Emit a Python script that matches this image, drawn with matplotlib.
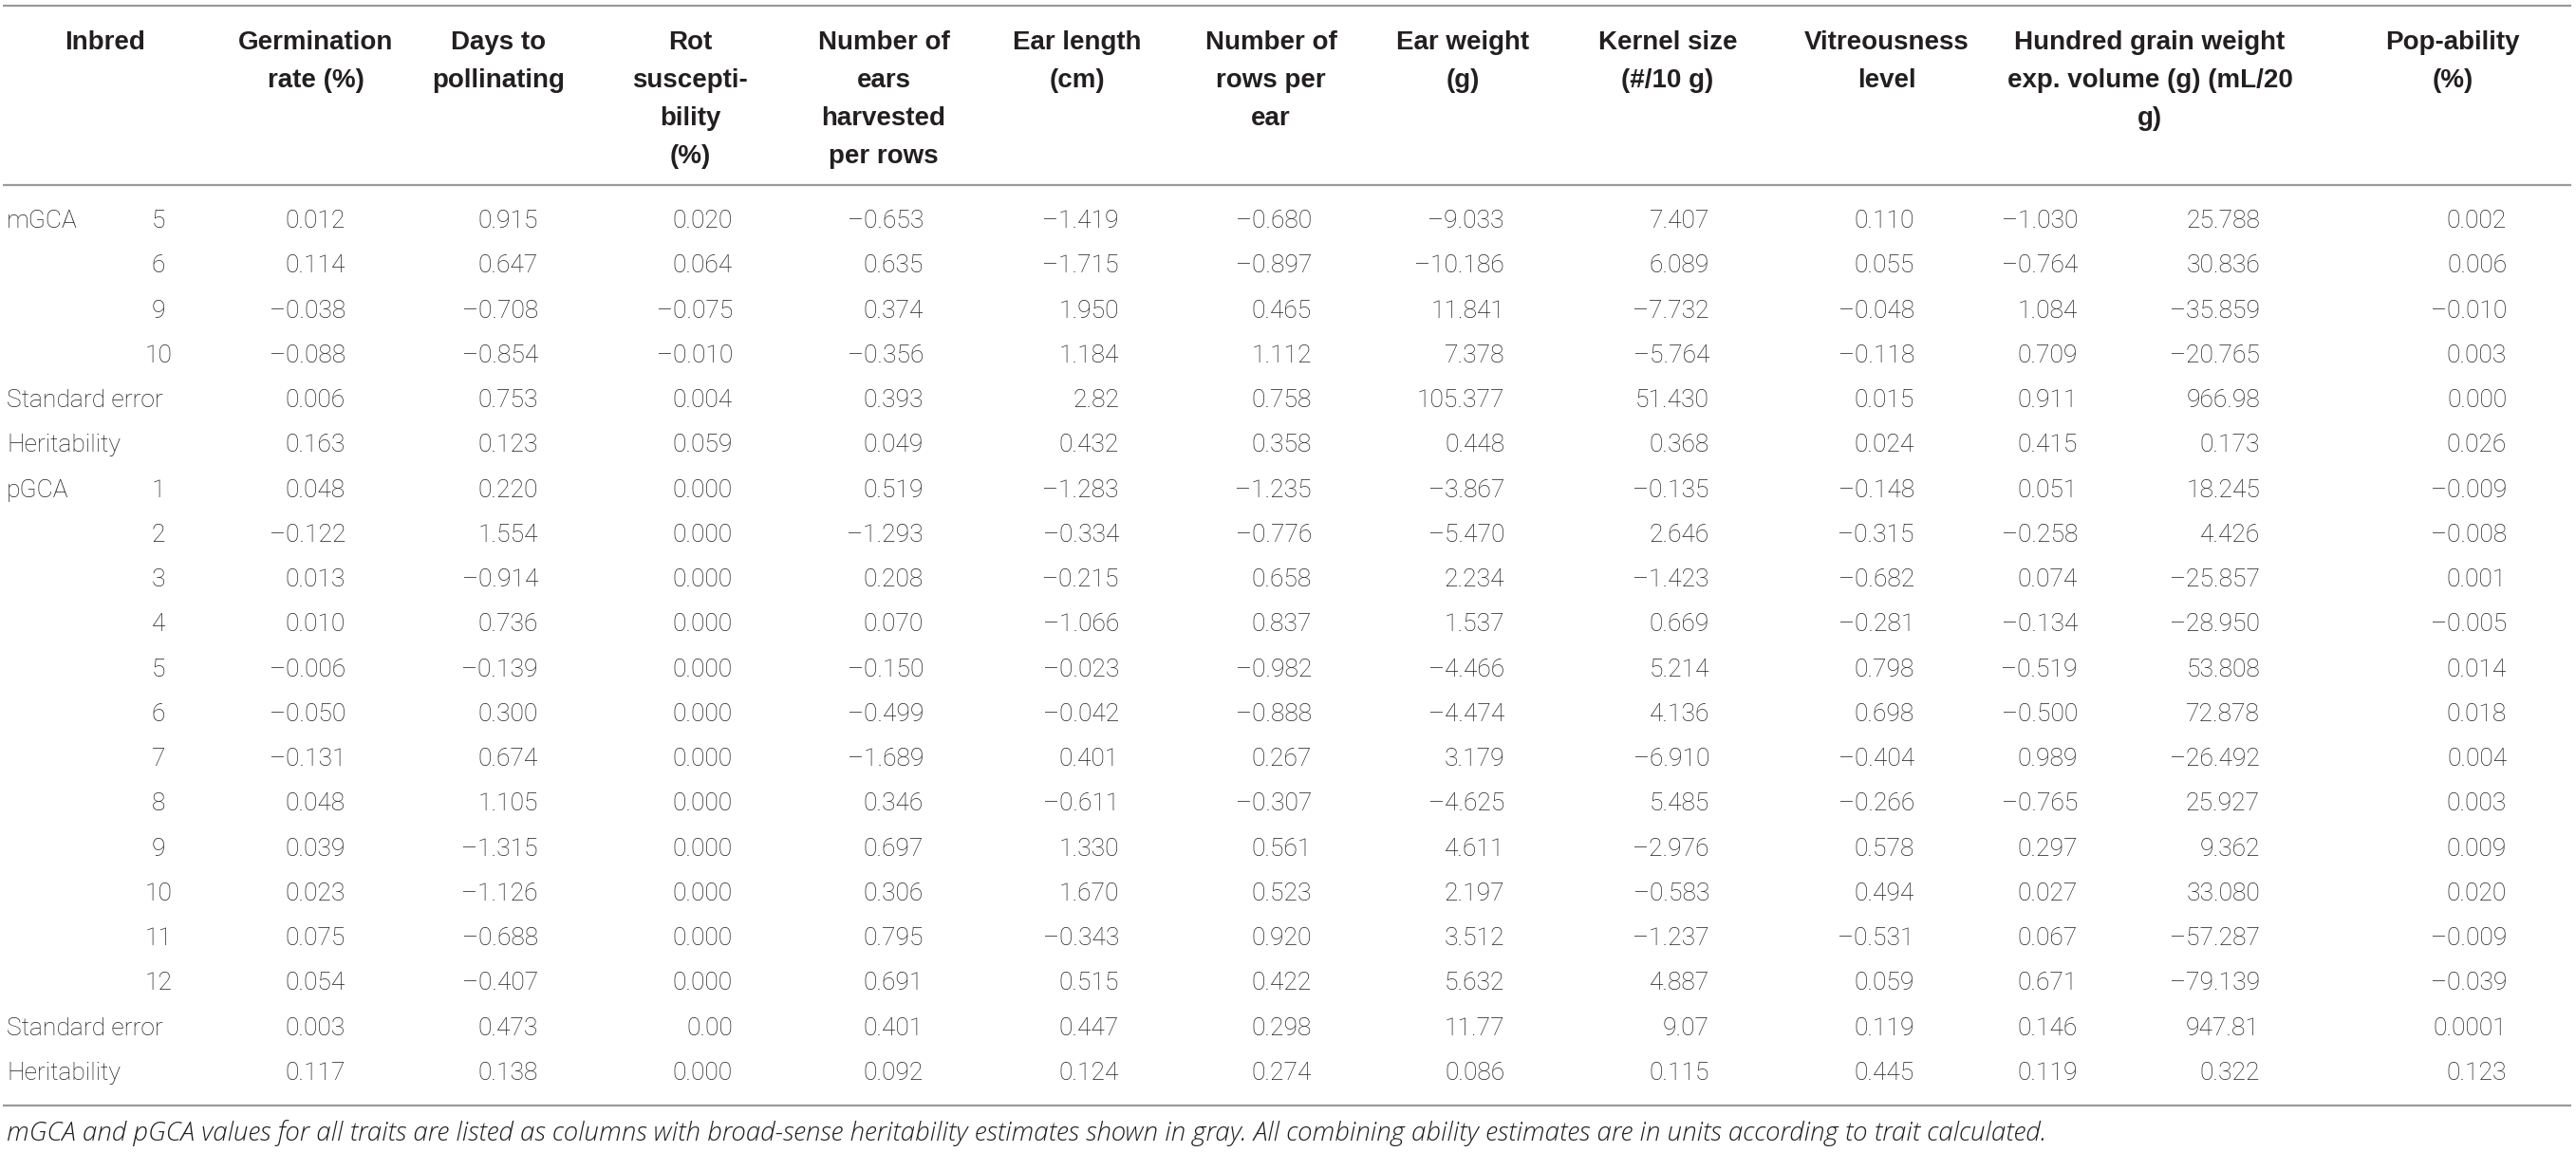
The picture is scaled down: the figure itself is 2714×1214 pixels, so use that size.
import matplotlib.pyplot as plt

# header of each column, one string per printed line
headers = [
    ["Inbred"],
    ["Germination", "rate (%)"],
    ["Days to", "pollinating"],
    ["Rot", "suscepti-", "bility", "(%)"],
    ["Number of", "ears", "harvested", "per rows"],
    ["Ear length", "(cm)"],
    ["Number of", "rows per", "ear"],
    ["Ear weight", "(g)"],
    ["Kernel size", "(#/10 g)"],
    ["Vitreousness", "level"],
    ["Hundred grain weight", "exp. volume (g) (mL/20", "g)"],
    ["Pop-ability", "(%)"],
]

mgca_inbreds = ["5", "6", "9", "10"]
mgca_values = [
    ["0.012", "0.915", "0.020", "–0.653", "–1.419", "–0.680", "–9.033", "7.407", "0.110", "–1.030", "25.788", "0.002"],
    ["0.114", "0.647", "0.064", "0.635", "–1.715", "–0.897", "–10.186", "6.089", "0.055", "–0.764", "30.836", "0.006"],
    ["–0.038", "–0.708", "–0.075", "0.374", "1.950", "0.465", "11.841", "–7.732", "–0.048", "1.084", "–35.859", "–0.010"],
    ["–0.088", "–0.854", "–0.010", "–0.356", "1.184", "1.112", "7.378", "–5.764", "–0.118", "0.709", "–20.765", "0.003"],
]
mgca_se = ["0.006", "0.753", "0.004", "0.393", "2.82", "0.758", "105.377", "51.430", "0.015", "0.911", "966.98", "0.000"]
mgca_h2 = ["0.163", "0.123", "0.059", "0.049", "0.432", "0.358", "0.448", "0.368", "0.024", "0.415", "0.173", "0.026"]

pgca_inbreds = ["1", "2", "3", "4", "5", "6", "7", "8", "9", "10", "11", "12"]
pgca_values = [
    ["0.048", "0.220", "0.000", "0.519", "–1.283", "–1.235", "–3.867", "–0.135", "–0.148", "0.051", "18.245", "–0.009"],
    ["–0.122", "1.554", "0.000", "–1.293", "–0.334", "–0.776", "–5.470", "2.646", "–0.315", "–0.258", "4.426", "–0.008"],
    ["0.013", "–0.914", "0.000", "0.208", "–0.215", "0.658", "2.234", "–1.423", "–0.682", "0.074", "–25.857", "0.001"],
    ["0.010", "0.736", "0.000", "0.070", "–1.066", "0.837", "1.537", "0.669", "–0.281", "–0.134", "–28.950", "–0.005"],
    ["–0.006", "–0.139", "0.000", "–0.150", "–0.023", "–0.982", "–4.466", "5.214", "0.798", "–0.519", "53.808", "0.014"],
    ["–0.050", "0.300", "0.000", "–0.499", "–0.042", "–0.888", "–4.474", "4.136", "0.698", "–0.500", "72.878", "0.018"],
    ["–0.131", "0.674", "0.000", "–1.689", "0.401", "0.267", "3.179", "–6.910", "–0.404", "0.989", "–26.492", "0.004"],
    ["0.048", "1.105", "0.000", "0.346", "–0.611", "–0.307", "–4.625", "5.485", "–0.266", "–0.765", "25.927", "0.003"],
    ["0.039", "–1.315", "0.000", "0.697", "1.330", "0.561", "4.611", "–2.976", "0.578", "0.297", "9.362", "0.009"],
    ["0.023", "–1.126", "0.000", "0.306", "1.670", "0.523", "2.197", "–0.583", "0.494", "0.027", "33.080", "0.020"],
    ["0.075", "–0.688", "0.000", "0.795", "–0.343", "0.920", "3.512", "–1.237", "–0.531", "0.067", "–57.287", "–0.009"],
    ["0.054", "–0.407", "0.000", "0.691", "0.515", "0.422", "5.632", "4.887", "0.059", "0.671", "–79.139", "–0.039"],
]
pgca_se = ["0.003", "0.473", "0.00", "0.401", "0.447", "0.298", "11.77", "9.07", "0.119", "0.146", "947.81", "0.0001"]
pgca_h2 = ["0.117", "0.138", "0.000", "0.092", "0.124", "0.274", "0.086", "0.115", "0.445", "0.119", "0.322", "0.123"]

caption = ("mGCA and pGCA values for all traits are listed as columns with broad-sense heritability "
           "estimates shown in gray. All combining ability estimates are in units according to trait calculated.")

# layout, in pixels of the 2714 x 1214 output
W, H = 2714, 1214
header_x = [111, 333, 525, 727, 931, 1135, 1339, 1541, 1757, 1988, 2265, 2584]
value_right = [364, 567, 772, 973, 1179, 1382, 1585, 1801, 2017, 2189, 2381, 2641]
inbred_x = 167
label_x = 7
first_row_y = 233
row_step = 47.26
ink = "#231f20"
rule = "#9a9a9a"

body = dict(family=["Roboto", "DejaVu Sans"], fontweight="light", fontsize=19, color=ink)
head = dict(family=["Liberation Sans", "DejaVu Sans"], fontweight="bold", fontsize=20, color=ink)
note = dict(family=["Open Sans", "DejaVu Sans"], fontweight="light", fontstyle="italic",
            fontsize=20, color=ink)

fig = plt.figure(figsize=(W / 100, H / 100), dpi=100)
ax = fig.add_axes([0, 0, 1, 1])
ax.set_xlim(0, W)
ax.set_ylim(H, 0)
ax.axis("off")

# rules
for y in (6, 195, 1165):
    ax.plot([3, 2709], [y, y], color=rule, lw=1.6, solid_capstyle="butt")

# header
for x, lines in zip(header_x, headers):
    for k, line in enumerate(lines):
        ax.text(x, 52 + 40 * k, line, ha="center", va="baseline", **head)

# body rows: (group label, inbred, values)
rows = []
for k, (inb, vals) in enumerate(zip(mgca_inbreds, mgca_values)):
    rows.append(("mGCA" if k == 0 else "", inb, vals))
rows.append(("Standard error", "", mgca_se))
rows.append(("Heritability", "", mgca_h2))
for k, (inb, vals) in enumerate(zip(pgca_inbreds, pgca_values)):
    rows.append(("pGCA" if k == 0 else "", inb, vals))
rows.append(("Standard error", "", pgca_se))
rows.append(("Heritability", "", pgca_h2))

for i, (label, inb, vals) in enumerate(rows):
    y = first_row_y + row_step * i
    if label:
        ax.text(label_x, y, label, ha="left", va="center", **body)
    if inb:
        ax.text(inbred_x, y, inb, ha="center", va="center", **body)
    for x, v in zip(value_right, vals):
        ax.text(x, y, v, ha="right", va="center", **body)

ax.text(label_x, 1194, caption, ha="left", va="center", **note)

fig.savefig("out.png", dpi=100)
